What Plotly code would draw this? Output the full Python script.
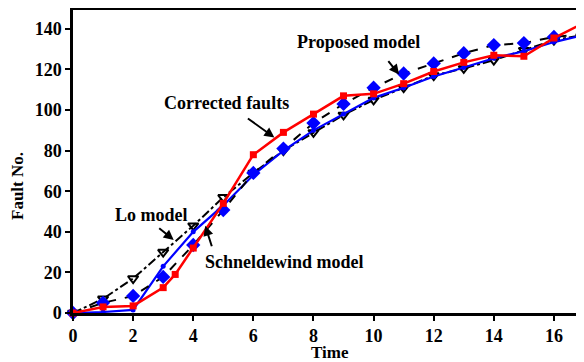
import plotly.graph_objects as go

time = list(range(0, 18))
corrected_time = [0, 1, 2, 3, 3.4, 4, 5, 6, 7, 8, 9, 10, 11, 12, 13, 14, 15, 16, 17]
corrected = [0, 3, 3.5, 12.5, 19, 32, 54, 78, 89, 98, 107, 108, 113, 119, 123.5, 127, 126.5, 135.5, 143]
proposed = [0, 5, 8.4, 17.8, 33.5, 50.7, 69, 81, 93.6, 103, 111, 118, 123, 128, 132, 133, 136, 137.5]
lo_model = [0, 7, 17, 30, 43, 57, 69, 80, 89, 97.6, 105, 111, 117, 120.5, 124.6, 129.5, 134.5, 137]
schneidewind = [0, 0.5, 1.5, 23, 40, 53, 68, 80, 90, 98, 106, 111, 116.5, 121, 125.5, 129, 133.5, 137]
x_ticks = list(range(0, 17, 2))
y_ticks = list(range(0, 141, 20))

FONT = "Liberation Serif, Times New Roman, serif"
W, H = 584, 362
OFF = 8  # page body margin
L, R, T, B = 73 - OFF, OFF, 10 - OFF, H - (313 - OFF)

fig = go.Figure()
fig.add_trace(go.Scatter(x=time, y=lo_model, mode="lines+markers",
                         line=dict(color="black", width=2, dash="dashdot"),
                         marker=dict(symbol="triangle-down-open", size=9, color="black", line=dict(width=2)),
                         cliponaxis=False))
fig.add_trace(go.Scatter(x=time, y=schneidewind, mode="lines+markers",
                         line=dict(color="#0000ff", width=2.2),
                         marker=dict(symbol="circle", size=5, color="#0000ff"),
                         cliponaxis=False))
fig.add_trace(go.Scatter(x=time, y=proposed, mode="lines+markers",
                         line=dict(color="black", width=2, dash="dash"),
                         marker=dict(symbol="diamond", size=11, color="#0000ff"),
                         cliponaxis=False))
fig.add_trace(go.Scatter(x=corrected_time, y=corrected, mode="lines+markers",
                         line=dict(color="#ff0000", width=2.5),
                         marker=dict(symbol="square", size=7, color="#ff0000"),
                         cliponaxis=False))

tfont = dict(family=FONT, size=18, color="black")
labels = [
    ("Proposed model", 9.5, 133.5),
    ("Corrected faults", 5.1, 103.5),
    ("Lo model", 2.6, 48.5),
    ("Schneldewind model", 7.05, 25),
]
annotations = []
for text, x, y in labels:
    annotations.append(dict(text="<b>" + text + "</b>", x=x, y=y, xref="x", yref="y",
                            showarrow=False, font=tfont))
arrows = [
    (10.85, 117.5, -12, -15),
    (6.7, 86.5, -28, -20),
    (3.35, 36, -16, -13),
    (4.4, 43, 7, 22),
]
for hx, hy, ax, ay in arrows:
    annotations.append(dict(x=hx, y=hy, xref="x", yref="y", ax=ax, ay=ay, text="",
                            showarrow=True, arrowhead=2, arrowsize=1, arrowwidth=2,
                            arrowcolor="black"))
plot_w = W - L - R
plot_h = H - T - B


def px_to_paper(px, py):
    fx, fy = px - OFF, py - OFF
    return (fx - L) / plot_w, ((H - B) - fy) / plot_h


yx, yy = px_to_paper(18, 186)
annotations.append(dict(text="<b>Fault No.</b>", x=yx, y=yy,
                        xref="paper", yref="paper", xanchor="center", yanchor="middle",
                        showarrow=False, font=dict(family=FONT, size=17, color="black"), textangle=-90))
tx, ty = px_to_paper(330, 352)
annotations.append(dict(text="<b>Time</b>", x=tx, y=ty,
                        xref="paper", yref="paper", xanchor="center", yanchor="middle",
                        showarrow=False, font=dict(family=FONT, size=17, color="black")))

fig.update_layout(
    width=W, height=H,
    margin=dict(l=L, r=R, t=T, b=B),
    paper_bgcolor="white", plot_bgcolor="white",
    showlegend=False,
    font=dict(family=FONT, size=18, color="black"),
    annotations=annotations,
)

fig.update_xaxes(range=[0, 17], tickvals=x_ticks, ticktext=[f"<b>{v}</b>" for v in x_ticks],
                 automargin=False,
                 showgrid=False, zeroline=False, showline=True, linecolor="black", linewidth=2.5,
                 mirror=True, ticks="outside", ticklen=5, tickwidth=2, tickcolor="black",
                 tickfont=dict(family=FONT, size=18, color="black"))
fig.update_yaxes(range=[0, 149.3], tickvals=y_ticks, ticktext=[f"<b>{v}</b>" for v in y_ticks],
                 automargin=False,
                 showgrid=False, zeroline=False, showline=True, linecolor="black", linewidth=2.5,
                 ticks="outside", ticklen=5, tickwidth=2, tickcolor="black",
                 tickfont=dict(family=FONT, size=18, color="black"))

fig.write_html("out.html")
